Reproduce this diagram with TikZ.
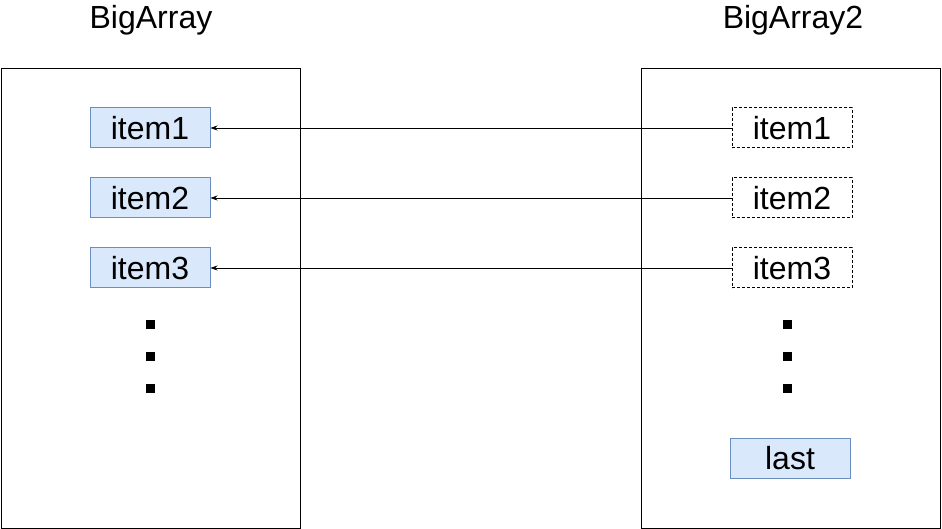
\documentclass[tikz,border=0pt]{standalone}
\usepackage{fontspec}
\setmainfont{Liberation Sans}
\usetikzlibrary{arrows.meta}
\definecolor{boxfill}{HTML}{DAE8FC}
\definecolor{boxdraw}{HTML}{6C8EBF}
\begin{document}
\begin{tikzpicture}[x=1pt,y=-1pt,
  every node/.style={font=\fontsize{32}{36}\selectfont, inner sep=0pt},
  bigbox/.style={draw=black, line width=1pt, minimum width=299pt, minimum height=459pt, anchor=north west},
  itembox/.style={draw=boxdraw, fill=boxfill, line width=1pt, minimum width=120pt, minimum height=40pt},
  refbox/.style={draw=black, dashed, dash pattern=on 3pt off 2pt, line width=1pt, minimum width=120pt, minimum height=40pt},
  dotsq/.style={fill=black, minimum size=9pt},
  link/.style={-{Stealth[length=7pt,width=5pt]}, line width=0.7pt}]
\useasboundingbox (0,0) rectangle (942,529);
\node[bigbox] (A) at (1,68.5) {};
\node[bigbox] (B) at (640.5,68.5) {};
\node (ta) at (151,20) {BigArray};
\node (tb) at (793,20) {BigArray2};
\node[itembox] (a1) at (150,128) {item1};
\node[itembox] (a2) at (150,198) {item2};
\node[itembox] (a3) at (150,268) {item3};
\node[refbox] (b1) at (792,128) {item1};
\node[refbox] (b2) at (792,198) {item2};
\node[refbox] (b3) at (792,268) {item3};
\node[itembox] (last) at (790,458) {last};
\node[dotsq] (da1) at (150,324) {};
\node[dotsq] (da2) at (150,356) {};
\node[dotsq] (da3) at (150,388) {};
\node[dotsq] (db1) at (787,324) {};
\node[dotsq] (db2) at (787,356) {};
\node[dotsq] (db3) at (787,388) {};
\draw[link] (b1) -- (a1);
\draw[link] (b2) -- (a2);
\draw[link] (b3) -- (a3);
\end{tikzpicture}
\end{document}
